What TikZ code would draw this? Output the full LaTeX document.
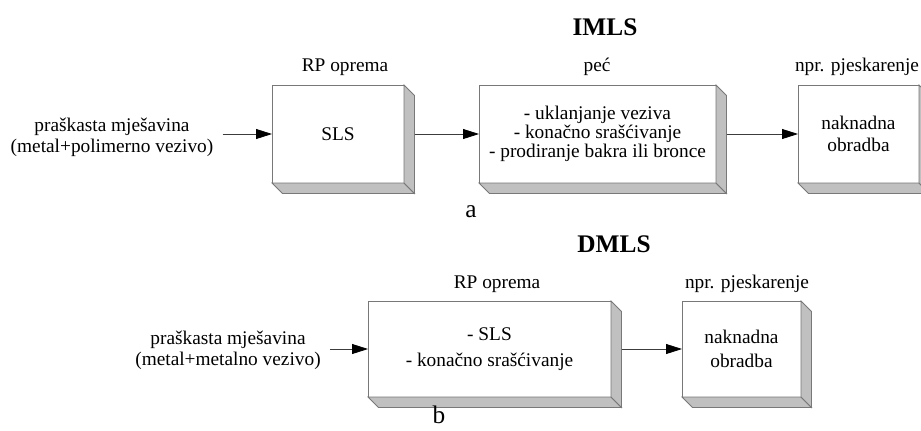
\documentclass[tikz,border=0pt]{standalone}
\usepackage{fontspec}
\setmainfont{Liberation Serif}
\usetikzlibrary{arrows.meta,calc}
\definecolor{boxline}{RGB}{120,120,120}
\definecolor{boxside}{RGB}{192,192,192}
\definecolor{arrline}{RGB}{60,60,60}
\newcommand{\dep}{10.5}
% grey extrusion below and right of a box node
\newcommand{\extrude}[1]{%
  \filldraw[side] (#1.south west) -- (#1.south east)
    -- ($(#1.south east)+(\dep,\dep)$) -- ($(#1.south west)+(\dep,\dep)$) -- cycle;
  \filldraw[side] (#1.north east) -- ($(#1.north east)+(\dep,\dep)$)
    -- ($(#1.south east)+(\dep,\dep)$) -- (#1.south east) -- cycle;}

\begin{document}
\begin{tikzpicture}[
  x=0.75pt, y=-0.75pt,
  blk/.style={draw=boxline, line width=0.6pt, fill=white, inner sep=0pt,
    outer sep=0pt, align=center, font=\fontsize{14.5}{16}\selectfont},
  side/.style={draw=boxline, line width=0.6pt, fill=boxside},
  src/.style={align=center, inner xsep=6.75pt, inner ysep=0pt,
    font=\fontsize{14.5}{15.75}\selectfont},
  lbl/.style={anchor=base, font=\fontsize{14.5}{16}\selectfont},
  ttl/.style={anchor=base, font=\fontsize{19}{20}\selectfont\bfseries},
  tag/.style={inner sep=0.5pt, font=\fontsize{19}{20}\selectfont},
  arr/.style={draw=arrline, line width=0.6pt,
    -{Triangle[length=12pt, width=7.5pt, color=black]}},
]
\useasboundingbox (0,0) rectangle (921,430);
% a: IMLS
\node[ttl] (imls) at (605,35) {IMLS};
\node[src] (mix1) at (112,137) {praškasta mješavina\\(metal+polimerno vezivo)};
\node[blk, minimum width=99pt, minimum height=73.5pt] (sls) at (338,134) {SLS};
\node[blk, minimum width=177.75pt, minimum height=73.5pt,
  font=\fontsize{14.5}{14.25}\selectfont] (pec) at (597.5,134)
  {- uklanjanje veziva\\- konačno srašćivanje\\- prodiranje bakra ili bronce};
\node[blk, minimum width=90.75pt, minimum height=73.5pt,
  font=\fontsize{14.5}{16.5}\selectfont] (obr1) at (858.5,134)
  {naknadna\\obradba};
\extrude{sls}
\extrude{pec}
\extrude{obr1}
\node[lbl] (rp1) at (345,71) {RP oprema};
\node[lbl] (peclbl) at (597,71) {peć};
\node[lbl] (pj1) at (857,71) {npr. pjeskarenje};
\draw[arr] (mix1.east |- sls.west) -- (sls.west);
\draw[arr] ($(sls.east)+(\dep,0)$) -- (pec.west);
\draw[arr] ($(pec.east)+(\dep,0)$) -- (obr1.west);
\node[tag] (a) at (471,212) {a};
% b: DMLS
\node[ttl] (dmls) at (614,252) {DMLS};
\node[src] (mix2) at (228,350) {praškasta mješavina\\(metal+metalno vezivo)};
\node[blk, minimum width=182.25pt, minimum height=72pt,
  font=\fontsize{14.5}{20}\selectfont] (rp2) at (489.5,349)
  {- SLS\\- konačno srašćivanje};
\node[blk, minimum width=89.25pt, minimum height=72pt,
  font=\fontsize{14.5}{18}\selectfont] (obr2) at (741.5,349)
  {naknadna\\obradba};
\extrude{rp2}
\extrude{obr2}
\node[lbl] (rp2lbl) at (497,288) {RP oprema};
\node[lbl] (pj2) at (747,288) {npr. pjeskarenje};
\draw[arr] (mix2.east |- rp2.west) -- (rp2.west);
\draw[arr] ($(rp2.east)+(\dep,0)$) -- (obr2.west);
\node[tag] (b) at (439,415) {b};
\end{tikzpicture}
\end{document}
